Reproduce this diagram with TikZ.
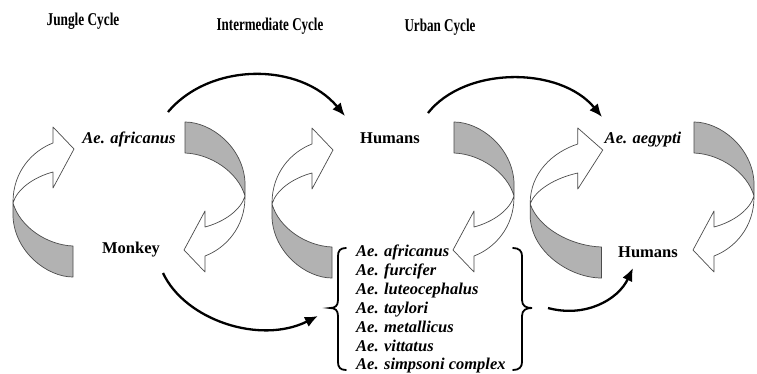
\documentclass[tikz,border=0pt]{standalone}
\usepackage{fontspec}
\usepackage{graphicx}
\setmainfont{Liberation Serif}
\usetikzlibrary{arrows.meta}
\tikzset{
  rib/.style={draw=black!70, line width=0.7pt, line join=round},
  ribbon/.pic={
    \path[rib, fill=black!30] (1,76) .. controls (8,100) and (35,118) .. (61,119) -- (61,150)
        .. controls (35,150) and (3,125) .. (1,90) -- cycle;
    \path[rib, fill=white] (41,16) .. controls (20,24) and (1,45) .. (1,75) -- (1,76)
        .. controls (5,62) and (22,50) .. (41,45) -- (41,61) -- (62,22) -- (41,0) -- cycle;
  },
  flow/.style={line width=2.3pt, -{Latex[length=13pt,width=11pt]}},
  bracestyle/.style={line width=1.8pt, line cap=round},
  lab/.style={font=\fontsize{16.5}{18}\selectfont\bfseries, inner sep=0, anchor=base},
  ital/.style={font=\fontsize{16.5}{18}\selectfont\bfseries\itshape, inner sep=0, anchor=base},
  listitem/.style={font=\fontsize{16.5}{18}\selectfont\bfseries\itshape, inner sep=0, anchor=base west},
  titlestyle/.style={font=\fontsize{18}{20}\selectfont\bfseries, inner sep=0, anchor=base},
}
\begin{document}
\begin{tikzpicture}[x=1pt,y=-1pt]
\useasboundingbox[fill=white] (0,0) rectangle (757,373);

% titles
\node[titlestyle] (t1) at (83,25) {\resizebox{72.7pt}{\height}{Jungle Cycle}};
\node[titlestyle] (t2) at (270,30) {\resizebox{106.7pt}{\height}{Intermediate Cycle}};
\node[titlestyle] (t3) at (440,31.5) {\resizebox{71pt}{\height}{Urban Cycle}};

% ribbons
\pic[shift={(12,127)}] {ribbon};
\pic[shift={(246,272)}, rotate=180] {ribbon};
\pic[shift={(271,128)}] {ribbon};
\pic[shift={(515,272)}, rotate=180] {ribbon};
\pic[shift={(529,128)}, xscale=1.19] {ribbon};
\pic[shift={(755,272)}, rotate=180] {ribbon};

% labels
\node[ital] (afr) at (129,143) {Ae. africanus};
\node[lab] (monkey) at (131,253) {Monkey};
\node[lab] (hum1) at (390,143) {Humans};
\node[ital] (aeg) at (643,143) {Ae. aegypti};
\node[lab] (hum2) at (648,257) {Humans};

% list
\node[listitem] (l1) at (356,256) {Ae. africanus};
\node[listitem] (l2) at (356,275) {Ae. furcifer};
\node[listitem] (l3) at (356,294) {Ae. luteocephalus};
\node[listitem] (l4) at (356,313) {Ae. taylori};
\node[listitem] (l5) at (356,332) {Ae. metallicus};
\node[listitem] (l6) at (356,351) {Ae. vittatus};
\node[listitem] (l7) at (356,369.5) {Ae. simpsoni complex};

% braces
\draw[bracestyle] (346,248) .. controls (340,248) and (338,251) .. (338,256) -- (338,300)
   .. controls (338,306) and (335,308) .. (330,308) .. controls (335,308) and (338,310) .. (338,316)
   -- (338,362) .. controls (338,367) and (340,370) .. (346,370);
\draw[bracestyle] (513,248) .. controls (519,248) and (522,251) .. (522,256) -- (522,300)
   .. controls (522,306) and (526,308) .. (532,308) .. controls (526,308) and (522,310) .. (522,316)
   -- (522,362) .. controls (522,367) and (519,370) .. (513,370);

% flow arrows
\coordinate (a1s) at (168,112); \coordinate (a1e) at (345,116);
\coordinate (a2s) at (428,113); \coordinate (a2e) at (602,117);
\coordinate (a3s) at (163,273); \coordinate (a3e) at (318,316);
\coordinate (a4s) at (548,308); \coordinate (a4e) at (633,268);
\draw[flow] (a1s) .. controls (210,62) and (300,62) .. (a1e);
\draw[flow] (a2s) .. controls (465,66) and (560,66) .. (a2e);
\draw[flow] (a3s) .. controls (185,320) and (260,345) .. (a3e);
\draw[flow] (a4s) .. controls (585,318) and (618,300) .. (a4e);
\end{tikzpicture}
\end{document}
